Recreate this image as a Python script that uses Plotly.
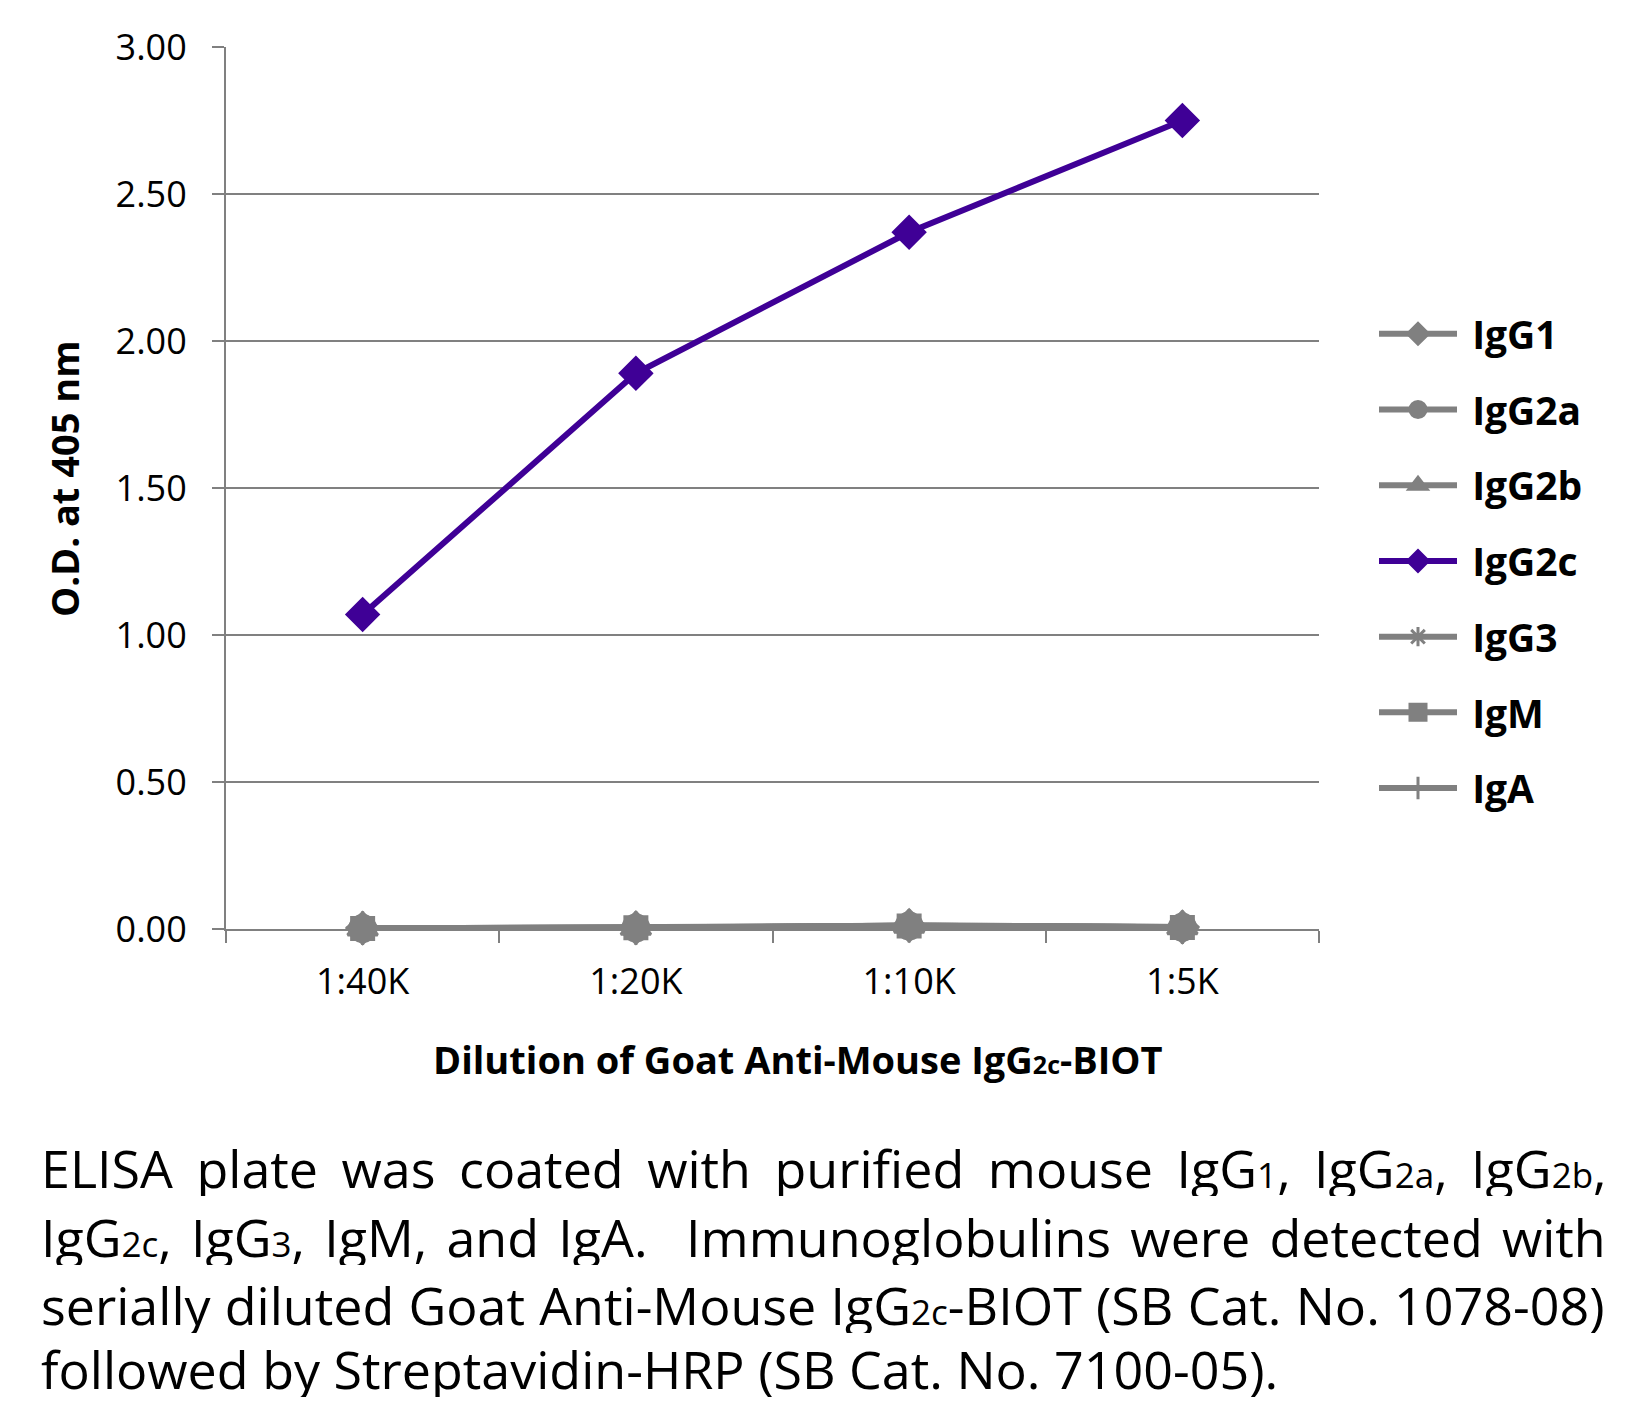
import plotly.graph_objects as go

# ---- data ----
dilutions = ["1:40K", "1:20K", "1:10K", "1:5K"]
igg1 = [0.003, 0.004, 0.012, 0.007]
igg2a = [0.002, 0.003, 0.010, 0.006]
igg2b = [0.002, 0.004, 0.011, 0.006]
igg2c = [1.07, 1.89, 2.37, 2.75]
igg3 = [0.003, 0.003, 0.012, 0.007]
igm = [0.002, 0.004, 0.010, 0.005]
iga = [0.003, 0.003, 0.011, 0.006]
y_ticks = [0.0, 0.5, 1.0, 1.5, 2.0, 2.5, 3.0]

GRAY = "#808080"
PURPLE = "#3f0096"
OFF = 8  # default page body margin
W, H = 1628 - 2 * OFF, 1411 - 2 * OFF
L, R, T, B = 226 - OFF, 1319 - OFF, 47 - OFF, 929 - OFF


def px_x(x):  # page pixel -> paper
    return (x - OFF - L) / (R - L)


def px_y(y):
    return (B - (y - OFF)) / (B - T)


series = [
    ("IgG1", igg1, GRAY, "diamond", 24),
    ("IgG2a", igg2a, GRAY, "circle", 26),
    ("IgG2b", igg2b, GRAY, "triangle-up", 26),
    ("IgG3", igg3, GRAY, "asterisk-open", 24),
    ("IgM", igm, GRAY, "square", 22),
    ("IgA", iga, GRAY, "cross-thin-open", 24),
    ("IgG2c", igg2c, PURPLE, "diamond", 24),
]
legend_order = ["IgG1", "IgG2a", "IgG2b", "IgG2c", "IgG3", "IgM", "IgA"]

fig = go.Figure()
for name, vals, col, sym, size in series:
    fig.add_trace(go.Scatter(
        x=dilutions, y=vals, name="\u00a0" + name, mode="lines+markers",
        line=dict(color=col, width=6),
        marker=dict(symbol=sym, size=size, color=col,
                    line=dict(color=col, width=3)),
        cliponaxis=False,
        legendgroup=name,
        legendrank=legend_order.index(name) + 1,
    ))

cap_font = dict(family="Open Sans", size=52, color="black")
sub = "<span style='font-size:35px'>%s</span>"
cap_lines = [
    ("ELISA plate was coated with purified mouse IgG" + sub % "1" + ", IgG" + sub % "2a" + ", IgG" + sub % "2b" + ",", 1167, 10),
    ("IgG" + sub % "2c" + ", IgG" + sub % "3" + ", IgM, and IgA.\u00a0 Immunoglobulins were detected with", 1236, 5.7),
    ("serially diluted Goat Anti-Mouse IgG" + sub % "2c" + "-BIOT (SB Cat. No. 1078-08)", 1304, 0.7),
    ("followed by Streptavidin-HRP (SB Cat. No. 7100-05).", 1368, 0),
]
annotations = []
for txt, ypx, ws in cap_lines:
    annotations.append(dict(
        xref="paper", yref="paper", x=px_x(39), y=px_y(ypx),
        xanchor="left", yanchor="middle", showarrow=False, height=58,
        text="<span style='word-spacing:%spx'>%s</span>" % (ws, txt),
        font=cap_font, align="left"))

annotations.append(dict(
    xref="paper", yref="paper", x=px_x(798), y=px_y(1059),
    xanchor="center", yanchor="middle", showarrow=False,
    text="<b>Dilution of Goat Anti-Mouse IgG<span style='font-size:25px'>2c</span>-BIOT</b>",
    font=dict(family="Open Sans", size=38, color="black")))
annotations.append(dict(
    xref="paper", yref="paper", x=px_x(64), y=px_y(479),
    xanchor="center", yanchor="middle", showarrow=False, textangle=-90,
    text="<b>O.D. at 405 nm</b>",
    font=dict(family="Open Sans", size=38, color="black")))

fig.update_layout(
    width=W, height=H,
    margin=dict(l=L, r=W - R, t=T, b=H - B),
    paper_bgcolor="white", plot_bgcolor="white",
    showlegend=True,
    legend=dict(
        x=px_x(1374), y=px_y(561), xanchor="left", yanchor="middle",
        font=dict(family="Open Sans", size=39, color="black", weight="bold"),
        tracegroupgap=22, itemwidth=78, bgcolor="rgba(0,0,0,0)",
    ),
    annotations=annotations,
    xaxis=dict(
        type="category", range=[-0.5, 3.5], tickson="boundaries",
        ticks="outside", ticklen=12, tickwidth=2, tickcolor=GRAY,
        showline=True, linecolor=GRAY, linewidth=2, showgrid=False,
        tickfont=dict(family="Open Sans", size=36, color="black"),
        ticklabelstandoff=20,
    ),
    yaxis=dict(
        range=[0, 3], tickvals=y_ticks, tickformat=".2f",
        ticks="outside", ticklen=12, tickwidth=2, tickcolor=GRAY,
        showline=True, linecolor=GRAY, linewidth=2,
        showgrid=True, gridcolor=GRAY, gridwidth=2, zeroline=False,
        tickfont=dict(family="Open Sans", size=36, color="black"),
        ticklabelstandoff=18,
    ),
)

fig.write_html("out.html")
